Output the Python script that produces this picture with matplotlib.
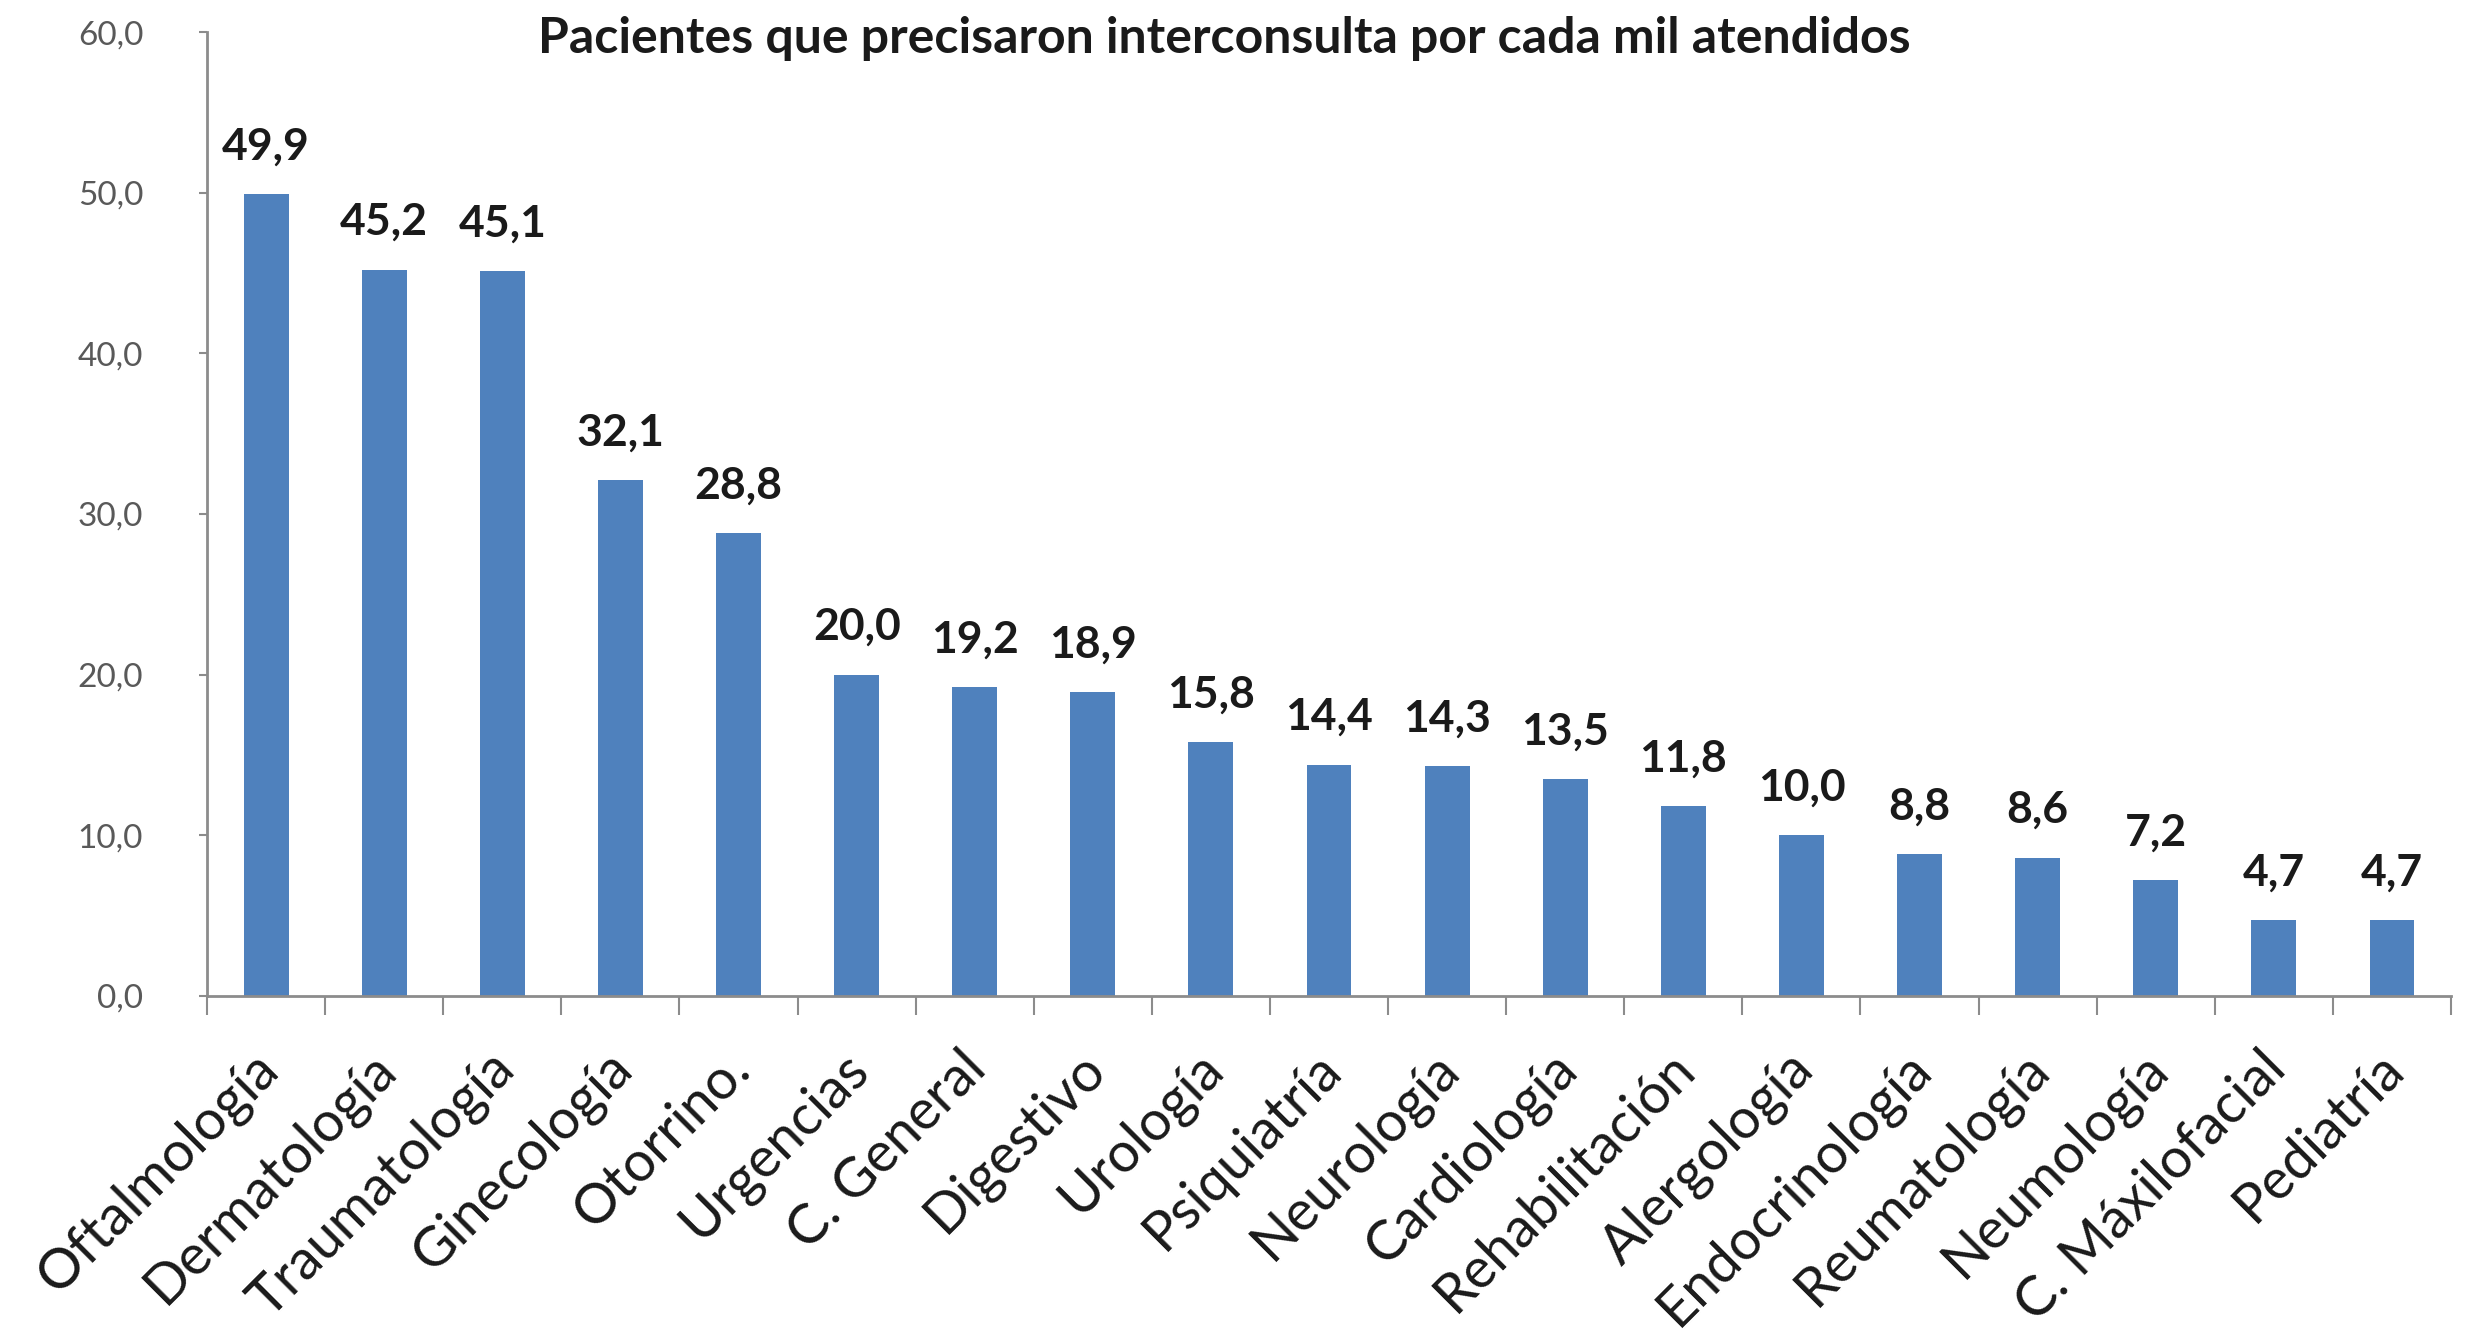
import matplotlib
matplotlib.use("Agg")
import matplotlib.pyplot as plt
import numpy as np

# Servicios y tasa de interconsulta por cada mil pacientes atendidos
servicios = [
    "Oftalmología", "Dermatología", "Traumatología", "Ginecología", "Otorrino.",
    "Urgencias", "C. General", "Digestivo", "Urología", "Psiquiatría",
    "Neurología", "Cardiología", "Rehabilitación", "Alergología", "Endocrinología",
    "Reumatología", "Neumología", "C. Máxilofacial", "Pediatría",
]
tasa = [49.9, 45.2, 45.1, 32.1, 28.8, 20.0, 19.2, 18.9, 15.8, 14.4,
        14.3, 13.5, 11.8, 10.0, 8.8, 8.6, 7.2, 4.7, 4.7]
y_ticks = [0, 10, 20, 30, 40, 50, 60]

plt.rcParams['font.family'] = ['Lato', 'DejaVu Sans']

fig = plt.figure(figsize=(24.74, 13.42), dpi=100)
ax = fig.add_axes([0.0837, 0.258, 0.907, 0.718])

x = np.arange(len(servicios))
bars = ax.bar(x, tasa, width=0.38, color='#4F81BD', zorder=2)

# etiquetas de valor sobre cada barra
for bar, v in zip(bars, tasa):
    ax.annotate(f'{v:.1f}'.replace('.', ','),
                (bar.get_x() + bar.get_width() / 2, bar.get_height()),
                xytext=(0, 25), textcoords='offset points',
                ha='center', va='baseline', fontsize=32, fontweight='bold',
                color='#1a1a1a')

ax.set_xlim(-0.5, len(servicios) - 0.5)
ax.set_ylim(0, 60)

ax.set_yticks(y_ticks)
ax.set_yticklabels([f'{t:.1f}'.replace('.', ',') for t in y_ticks])
ax.tick_params(axis='y', direction='out', length=6, width=1.5, color='#8c8c8c',
               labelsize=24, labelcolor='#595959', pad=40)

# marcas del eje x entre categorías
ax.set_xticks(x)
ax.set_xticklabels(servicios, rotation=45, ha='right', va='center_baseline',
                   rotation_mode='anchor', fontsize=40, color='#1a1a1a')
ax.tick_params(axis='x', which='major', length=0, pad=44)
ax.set_xticks(np.arange(-0.5, len(servicios)), minor=True)
ax.tick_params(axis='x', which='minor', direction='out', length=14, width=1.5,
               color='#8c8c8c')

for side in ['top', 'right']:
    ax.spines[side].set_visible(False)
for side in ['left', 'bottom']:
    ax.spines[side].set_color('#8c8c8c')
    ax.spines[side].set_linewidth(2)

fig.text(0.495, 0.988, 'Pacientes que precisaron interconsulta por cada mil atendidos',
         ha='center', va='top', fontsize=36, fontweight='bold', color='#1a1a1a')

plt.savefig('out.png', dpi=100, facecolor='white')
